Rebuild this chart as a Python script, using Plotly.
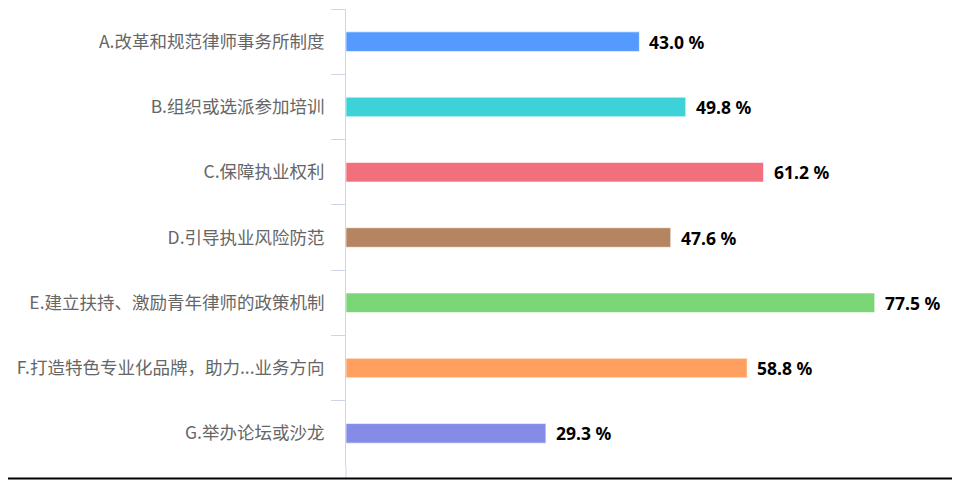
import plotly.graph_objects as go

# 各选项及比例
categories = [
    "A.改革和规范律师事务所制度",
    "B.组织或选派参加培训",
    "C.保障执业权利",
    "D.引导执业风险防范",
    "E.建立扶持、激励青年律师的政策机制",
    "F.打造特色专业化品牌，助力...业务方向",
    "G.举办论坛或沙龙",
]
values = [43.0, 49.8, 61.2, 47.6, 77.5, 58.8, 29.3]
colors = ["#559aff", "#3cd2d8", "#f2707c", "#b58460", "#7ad677", "#ffa060", "#858ce8"]

fig = go.Figure()

fig.add_trace(go.Bar(
    x=values, y=categories,
    orientation="h",
    width=0.3,
    marker=dict(color=colors, line=dict(color="rgba(255,255,255,0.6)", width=1)),
    hoverinfo="skip",
))

# 数值标签
for cat, val in zip(categories, values):
    fig.add_annotation(
        x=val, y=cat, text=f"{val:.1f} %",
        xanchor="left", xshift=8, showarrow=False,
        font=dict(family="Noto Sans, sans-serif", size=17.5, color="#000000", weight="bold"),
    )

# 轴线向下延伸 + 底部黑线
fig.add_shape(type="line", xref="paper", yref="paper",
              x0=0, x1=0, y0=0, y1=-0.04, line=dict(color="#ccd6eb", width=1))
fig.add_shape(type="line", xref="paper", yref="paper",
              x0=-1, x1=1, y0=-0.0274, y1=-0.0274, line=dict(color="#000000", width=2))

fig.update_layout(
    width=960, height=480,
    margin=dict(l=338, r=8, t=1, b=22),
    paper_bgcolor="white", plot_bgcolor="white",
    showlegend=False,
    xaxis=dict(range=[0, 90], visible=False, fixedrange=True),
    yaxis=dict(
        autorange="reversed",
        showline=True, linecolor="#ccd6eb", linewidth=1,
        ticks="outside", tickson="boundaries", ticklen=14, tickcolor="#ccd6eb",
        showgrid=False,
        ticklabelstandoff=17,
        tickfont=dict(family="Noto Sans CJK SC, Noto Sans, sans-serif", size=17.5, color="#666666"),
    ),
)

fig.write_html("out.html")
